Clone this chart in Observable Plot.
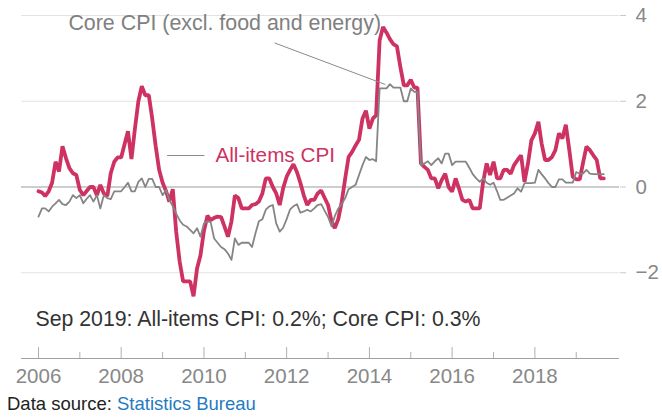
<!DOCTYPE html>
<html>
<head>
<meta charset="utf-8">
<script src="https://cdn.jsdelivr.net/npm/d3@7"></script>
<script src="https://cdn.jsdelivr.net/npm/@observablehq/plot@0.6"></script>
<style>
  body { margin: 0; background: #fff; font-family: "Liberation Sans", Arial, Helvetica, sans-serif; }
  #chart svg { display: block; }
  #caption { font-size: 18.5px; line-height: 22px; color: #222; padding-left: 7px; white-space: nowrap; }
  #caption span { color: #1f7bc1; }
</style>
</head>
<body>
<div id="chart"></div>
<div id="caption">Data source: <span>Statistics Bureau</span></div>
<script>
// Monthly year-on-year change (%), Jan 2006 – Sep 2019
const firstMonth = "2006-01-01";
const lastMonth = "2019-09-01";

const allItemsCPI = [
  -0.1, -0.13, -0.21, -0.1, 0.1, 0.59, 0.36, 0.95, 0.67, 0.44, 0.32, 0.28,      // 2006
  -0.07, -0.19, -0.1, 0.0, 0.0, -0.19, 0.05, -0.15, -0.21, 0.32, 0.59, 0.69,    // 2007
  0.69, 1.01, 1.3, 0.65, 1.35, 2.0, 2.35, 2.14, 2.14, 1.6, 0.95, 0.4,           // 2008
  0.1, -0.1, -0.34, -0.05, -1.05, -1.75, -2.2, -2.2, -2.2, -2.55, -1.9, -1.6,   // 2009
  -1.02, -0.67, -0.77, -0.72, -0.69, -0.7, -0.92, -1.16, -0.8, -0.2, -0.26, -0.5, // 2010
  -0.5, -0.5, -0.42, -0.4, -0.34, -0.15, 0.2, 0.2, 0.0, -0.15, -0.42, -0.03,    // 2011
  0.24, 0.4, 0.53, 0.35, 0.1, -0.2, -0.42, -0.3, -0.3, -0.15, -0.08, -0.25,     // 2012
  -0.42, -0.8, -0.96, -0.75, -0.35, 0.2, 0.7, 0.82, 0.97, 1.1, 1.6, 1.78,       // 2013
  1.36, 1.6, 1.67, 3.42, 3.73, 3.6, 3.45, 3.33, 3.28, 2.8, 2.37, 2.37,          // 2014
  2.5, 2.32, 2.32, 0.55, 0.47, 0.4, 0.2, 0.2, -0.03, 0.16, 0.31, 0.0,           // 2015
  -0.11, 0.2, -0.03, -0.3, -0.34, -0.3, -0.5, -0.5, -0.5, 0.12, 0.55, 0.28,     // 2016
  0.59, 0.2, 0.2, 0.4, 0.4, 0.31, 0.51, 0.63, 0.74, 0.12, 0.55, 1.09,           // 2017
  1.25, 1.52, 1.02, 0.63, 0.63, 0.7, 0.86, 1.25, 1.13, 1.45, 0.86, 0.24,        // 2018
  0.18, 0.18, 0.55, 0.94, 0.86, 0.74, 0.63, 0.2, 0.2                            // 2019
];

const coreCPI = [
  -0.69, -0.5, -0.5, -0.57, -0.46, -0.38, -0.3, -0.4, -0.42, -0.34, -0.19, -0.26, // 2006
  -0.19, -0.38, -0.28, -0.19, -0.34, -0.19, -0.5, -0.19, -0.26, -0.28, -0.1, -0.1, // 2007
  -0.1, 0.0, 0.1, -0.1, -0.1, 0.12, 0.2, 0.0, 0.19, 0.19, 0.0, 0.0,                // 2008
  -0.19, -0.07, -0.3, -0.45, -0.62, -0.78, -0.88, -0.92, -1.0, -1.08, -0.96, -1.16, // 2009
  -0.85, -0.8, -0.82, -1.2, -1.3, -1.4, -1.45, -1.55, -1.7, -1.2, -1.35, -1.3,     // 2010
  -1.3, -1.3, -1.4, -1.08, -0.8, -0.75, -0.53, -0.45, -0.42, -0.85, -1.04, -0.95,  // 2011
  -0.75, -0.52, -0.45, -0.4, -0.6, -0.57, -0.53, -0.57, -0.5, -0.42, -0.4, -0.55,  // 2012
  -0.7, -0.92, -0.68, -0.5, -0.4, -0.26, -0.05, 0.0, 0.05, 0.28, 0.51, 0.7,        // 2013
  0.63, 0.65, 0.6, 2.3, 2.3, 2.3, 2.4, 2.32, 2.32, 2.32, 2.0, 2.0,                 // 2014
  2.3, 2.22, 2.22, 0.51, 0.55, 0.6, 0.51, 0.6, 0.67, 0.55, 0.78, 0.78,             // 2015
  0.51, 0.59, 0.59, 0.59, 0.59, 0.45, 0.3, 0.2, 0.12, 0.2, 0.1, 0.05,              // 2016
  0.1, -0.1, -0.3, -0.3, -0.25, -0.2, -0.15, -0.03, -0.11, 0.09, 0.09, 0.09,       // 2017
  0.1, 0.4, 0.3, 0.2, 0.09, 0.0, 0.0, 0.18, 0.18, 0.1, 0.1, 0.1,                   // 2018
  0.35, 0.31, 0.31, 0.4, 0.31, 0.3, 0.3, 0.3, 0.3                                  // 2019
];

const yTicks = [-2, 0, 2, 4];
const majorYears = [2006, 2008, 2010, 2012, 2014, 2016, 2018];
const minorYears = [2007, 2009, 2011, 2013, 2015, 2017, 2019];

const labelCore = "Core CPI (excl. food and energy)";
const labelAll = "All-items CPI";
const latestNote = "Sep 2019: All-items CPI: 0.2%; Core CPI: 0.3%";

// ---- build table ----
const months = d3.utcMonth.range(new Date(firstMonth), d3.utcMonth.offset(new Date(lastMonth), 1));
const rows = months.map((date, i) => ({date, all: allItemsCPI[i], core: coreCPI[i]}));
const yearDate = y => new Date(Date.UTC(y, 0, 1));
const majorDates = majorYears.map(yearDate);
const minorDates = minorYears.map(yearDate);

const RED = "#cd3262";
const GRAY = "#858585";
const FONT = '"Liberation Sans", Arial, Helvetica, sans-serif';

const annotations = [
  {x: new Date(Date.UTC(2006, 8, 22)), y: 3.83, text: labelCore, fill: "#808080", size: 21.4},
  {x: new Date(Date.UTC(2010, 3, 12)), y: 0.735, text: labelAll, fill: RED, size: 20.7},
  {x: new Date(Date.UTC(2005, 11, 5)), y: -3.074, text: latestNote, fill: "#333", size: 21.3}
];
const leaders = [
  {x1: new Date(Date.UTC(2011, 8, 17)), y1: 3.36, x2: new Date(Date.UTC(2014, 4, 22)), y2: 2.39},
  {x1: new Date(Date.UTC(2009, 1, 10)), y1: 0.735, x2: new Date(Date.UTC(2010, 0, 5)), y2: 0.735}
];

const chart = Plot.plot({
  width: 662,
  height: 393,
  marginLeft: 21,
  marginRight: 43,
  marginTop: 15,
  marginBottom: 35,
  style: {fontFamily: FONT, fontSize: "20px", background: "#fff", overflow: "visible"},
  x: {type: "utc", domain: [new Date(Date.UTC(2005, 7, 4)), new Date(Date.UTC(2020, 0, 18))]},
  y: {domain: [-4, 4]},
  marks: [
    Plot.ruleY(yTicks.filter(d => d !== 0), {stroke: "#e2e2e2", strokeWidth: 1}),
    Plot.ruleY([0], {stroke: "#bcbcbc", strokeWidth: 1.6}),
    Plot.ruleY([-4], {stroke: "#a0a0a0", strokeWidth: 1}),
    Plot.tickX(majorDates, {stroke: "#b0b0b0", insetTop: 332}),
    Plot.tickX(minorDates, {stroke: "#b0b0b0", insetTop: 337}),
    Plot.axisX(majorDates, {tickSize: 0, tickPadding: 10, tickFormat: d3.utcFormat("%Y"), fill: "#888", fontSize: 20.5, label: null}),
    Plot.axisY(yTicks, {anchor: "right", tickSize: 6, tickPadding: 10, stroke: "#c8c8c8", fill: "#888", fontSize: 20.5, label: null}),
    Plot.line(rows, {x: "date", y: "all", stroke: RED, strokeWidth: 3.8, strokeLinejoin: "miter"}),
    Plot.line(rows, {x: "date", y: "core", stroke: GRAY, strokeWidth: 1.8}),
    Plot.link(leaders, {x1: "x1", y1: "y1", x2: "x2", y2: "y2", stroke: "#8a8a8a", strokeWidth: 1}),
    Plot.text(annotations, {x: "x", y: "y", text: "text", fill: "fill", fontSize: "size", textAnchor: "start", lineAnchor: "middle"})
  ]
});
document.getElementById("chart").appendChild(chart);
</script>
</body>
</html>
